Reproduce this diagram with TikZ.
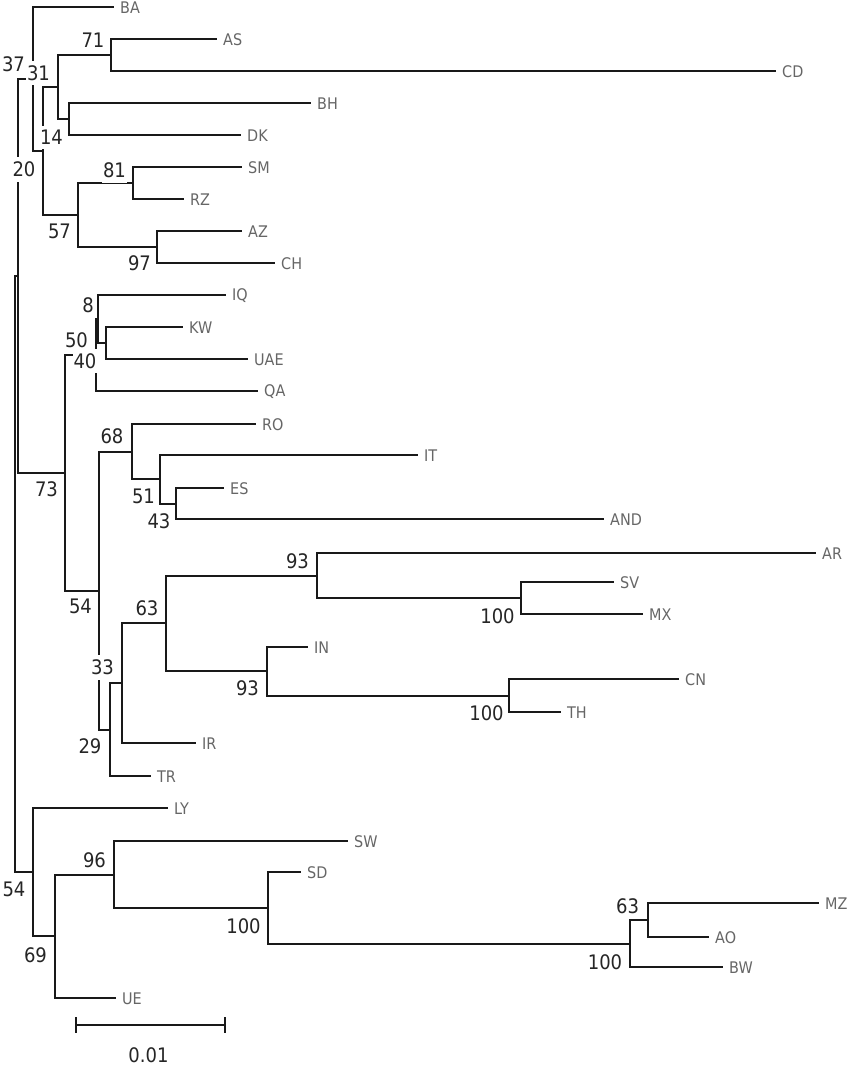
\documentclass[tikz,border=0pt]{standalone}
\usepackage{fontspec}
\newfontfamily\bsfont{DejaVu Sans Condensed}
\newfontfamily\tipfont{DejaVu Sans Condensed}
\begin{document}
\begin{tikzpicture}[x=1pt,y=-1pt,
  br/.style={line width=2pt, draw=black!90, line cap=rect},
  bs/.style={font=\bsfont\fontsize{20}{20}\selectfont, text=black!85, fill=white, inner xsep=1pt, inner ysep=4.5pt},
  tiplab/.style={font=\tipfont\fontsize{16}{16}\selectfont, text=black!60, anchor=west, xshift=7pt, yshift=-1pt, inner sep=0pt}]
\useasboundingbox (0,0) rectangle (850,1067);
% tips (branch ends)
\foreach \n/\x/\y in {BA/113/7, AS/216/39, CD/775/71, BH/310/103, DK/240/135, SM/241/167,
  RZ/183/199, AZ/241/231, CH/274/263, IQ/225/295, KW/182/327, UAE/247/359, QA/257/391,
  RO/255/424, IT/417/455, ES/223/488, AND/603/519, AR/815/553, SV/613/582, MX/642/614,
  IN/307/647, CN/678/679, TH/560/712, IR/195/743, TR/150/776, LY/167/808, SW/347/841,
  SD/300/872, MZ/818/903, AO/708/937, BW/722/967, UE/115/998}
  {\coordinate (\n) at (\x,\y); \node[tiplab] (l\n) at (\n) {\n};}
% internal nodes
\foreach \n/\x/\y in {n71/111/55, nBH/69/119, nX/58/87, n81/133/183, n97/157/247, n57/78/215,
  nY/43/151, nZ/33/79, n20/18/275.5, nKW/106/343, n8/97.5/319, n40/96/355, nES/176/503.5,
  n51/160/479, n68/132/451.5, nSV/521/598, n93a/317/575.5, nCN/509/695.5, n93b/267/671,
  n63/166/623, nIR/122/683, n29/110/729.5, n54m/99/590.5, n73/65/472.5, root/15/573.75,
  nLY/33/872, n69/55/936, n96/114/874.5, nSD/268/908, nBW/630/944, n63b/648/920}
  {\coordinate (\n) at (\x,\y);}
% branches
\foreach \p/\c in {root/n20, root/nLY, n20/nZ, n20/n73, nZ/BA, nZ/nY, nY/nX, nY/n57,
  nX/n71, nX/nBH, n71/AS, n71/CD, nBH/BH, nBH/DK, n57/n81, n57/n97, n81/SM, n81/RZ,
  n97/AZ, n97/CH, n73/n40, n73/n54m, n40/n8, n40/QA, n8/IQ, n8/nKW, nKW/KW, nKW/UAE,
  n54m/n68, n54m/n29, n68/RO, n68/n51, n51/IT, n51/nES, nES/ES, nES/AND, n29/nIR, n29/TR,
  nIR/n63, nIR/IR, n63/n93a, n63/n93b, n93a/AR, n93a/nSV, nSV/SV, nSV/MX, n93b/IN,
  n93b/nCN, nCN/CN, nCN/TH, nLY/LY, nLY/n69, n69/n96, n69/UE, n96/SW, n96/nSD,
  nSD/SD, nSD/nBW, nBW/n63b, nBW/BW, n63b/MZ, n63b/AO}
  {\draw[br] (\p) |- (\c);}
% bootstrap values
\foreach \n/\x/\y/\t in {b1/13.5/64.5/37, b2/38.5/73/31, b3/93/40.5/71, b4/51.5/137.5/14,
  b5/24/169.5/20, b6/114.5/170.5/81, b7/59.5/231.5/57, b8/139.5/263.5/97, b9/88/305/8,
  b10/76.5/340.5/50, b11/85/361/40, b12/46.5/489.5/73, b13/112/436.5/68, b14/143.5/496.5/51,
  b15/159/521.5/43, b16/80.5/606.5/54, b17/147/608.5/63, b18/297.5/561.5/93, b19/102.5/667.5/33,
  b20/247.5/688/93, b21/90/746.5/29, b22/497.5/616.5/100, b23/486.5/713.5/100, b24/14/889.5/54,
  b25/94.5/860.5/96, b26/35.5/955/69, b27/243.5/926.5/100, b28/627.5/906.5/63, b29/605/962.5/100}
  {\node[bs] (\n) at (\x,\y) {\t};}
% scale bar
\coordinate (sb1) at (76,1025);
\coordinate (sb2) at (225,1025);
\draw[br, line cap=butt] (sb1) -- (sb2);
\draw[br, line cap=butt] ([yshift=8pt]sb1) -- ([yshift=-8pt]sb1);
\draw[br, line cap=butt] ([yshift=8pt]sb2) -- ([yshift=-8pt]sb2);
\node[bs, fill=none] (sbl) at (148.5,1055) {0.01};
\end{tikzpicture}
\end{document}
